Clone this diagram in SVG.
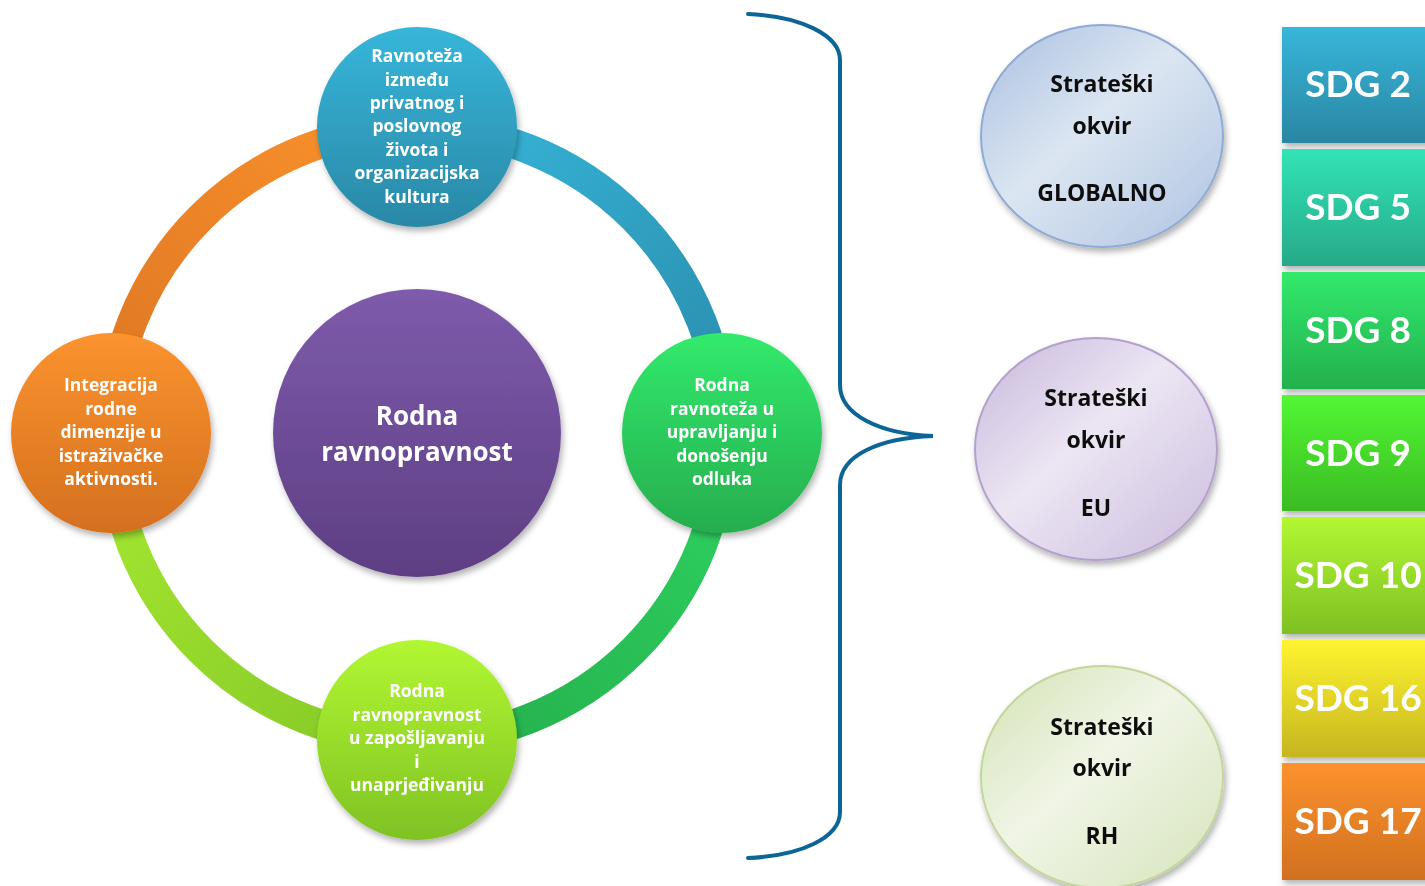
<svg xmlns="http://www.w3.org/2000/svg" width="1425" height="886" viewBox="0 0 1425 886">
<defs>
<style>
.nt{font-family:"Open Sans","Liberation Sans",sans-serif;font-weight:bold;fill:#fff;text-anchor:middle}
.n{font-size:17.5px}
.c{font-size:26px}
.sdg{font-family:Lato,"Open Sans","Liberation Sans",sans-serif;font-weight:bold;fill:#fff;text-anchor:middle;font-size:37px}
.st{font-family:"Open Sans","Liberation Sans",sans-serif;font-weight:bold;fill:#111;text-anchor:middle;font-size:23px}
.ring{fill:none;stroke-width:30}
</style>
<filter id="sh" x="-20%" y="-20%" width="150%" height="150%">
<feDropShadow dx="2" dy="4" stdDeviation="3" flood-color="#000" flood-opacity="0.3"/>
</filter>
<linearGradient id="gTop" x1="0" y1="0" x2="0" y2="1"><stop offset="0" stop-color="#37b6da"/><stop offset="1" stop-color="#2a88a6"/></linearGradient>
<linearGradient id="gRight" x1="0" y1="0" x2="0" y2="1"><stop offset="0" stop-color="#31ea6c"/><stop offset="1" stop-color="#27ad4e"/></linearGradient>
<linearGradient id="gLeft" x1="0" y1="0" x2="0" y2="1"><stop offset="0" stop-color="#fb932e"/><stop offset="1" stop-color="#d4701f"/></linearGradient>
<linearGradient id="gBot" x1="0" y1="0" x2="0" y2="1"><stop offset="0" stop-color="#b2f732"/><stop offset="1" stop-color="#7fc224"/></linearGradient>
<linearGradient id="gCen" x1="0" y1="0" x2="0" y2="1"><stop offset="0" stop-color="#7e5bab"/><stop offset="1" stop-color="#5e3e83"/></linearGradient>
<linearGradient id="rTR" gradientUnits="userSpaceOnUse" x1="417" y1="128" x2="723" y2="434"><stop offset="0" stop-color="#37b6da"/><stop offset="1" stop-color="#2a8cab"/></linearGradient>
<linearGradient id="rBR" gradientUnits="userSpaceOnUse" x1="723" y1="434" x2="417" y2="740"><stop offset="0" stop-color="#2ed161"/><stop offset="1" stop-color="#25ae4c"/></linearGradient>
<linearGradient id="rBL" gradientUnits="userSpaceOnUse" x1="417" y1="740" x2="111" y2="434"><stop offset="0" stop-color="#84c827"/><stop offset="1" stop-color="#a6e831"/></linearGradient>
<linearGradient id="rTL" gradientUnits="userSpaceOnUse" x1="111" y1="434" x2="417" y2="128"><stop offset="0" stop-color="#dc7622"/><stop offset="1" stop-color="#fb922d"/></linearGradient>
<linearGradient id="e1" x1="0" y1="0" x2="1" y2="1"><stop offset="0" stop-color="#a8bfe0"/><stop offset="0.45" stop-color="#dce6f2"/><stop offset="1" stop-color="#aec3e1"/></linearGradient>
<linearGradient id="e2" x1="0" y1="0" x2="1" y2="1"><stop offset="0" stop-color="#c7b6dc"/><stop offset="0.45" stop-color="#ece6f3"/><stop offset="1" stop-color="#cbbcde"/></linearGradient>
<linearGradient id="e3" x1="0" y1="0" x2="1" y2="1"><stop offset="0" stop-color="#d3e2b4"/><stop offset="0.45" stop-color="#f0f5e6"/><stop offset="1" stop-color="#d6e4bb"/></linearGradient>
<linearGradient id="s2" x1="0" y1="0" x2="0" y2="1"><stop offset="0" stop-color="#37b6da"/><stop offset="1" stop-color="#2a86a2"/></linearGradient>
<linearGradient id="s5" x1="0" y1="0" x2="0" y2="1"><stop offset="0" stop-color="#31e4b6"/><stop offset="1" stop-color="#27a988"/></linearGradient>
<linearGradient id="s8" x1="0" y1="0" x2="0" y2="1"><stop offset="0" stop-color="#32ea6c"/><stop offset="1" stop-color="#24af4d"/></linearGradient>
<linearGradient id="s9" x1="0" y1="0" x2="0" y2="1"><stop offset="0" stop-color="#52f732"/><stop offset="1" stop-color="#3bbb24"/></linearGradient>
<linearGradient id="s10" x1="0" y1="0" x2="0" y2="1"><stop offset="0" stop-color="#b2f732"/><stop offset="1" stop-color="#7fc024"/></linearGradient>
<linearGradient id="s16" x1="0" y1="0" x2="0" y2="1"><stop offset="0" stop-color="#fff431"/><stop offset="1" stop-color="#c6b51f"/></linearGradient>
<linearGradient id="s17" x1="0" y1="0" x2="0" y2="1"><stop offset="0" stop-color="#fc922e"/><stop offset="1" stop-color="#d0701f"/></linearGradient>
</defs>
<rect width="1425" height="886" fill="#fff"/>

<g id="connectors">
<path class="ring" stroke="url(#rTR)" d="M417,128 A306,306 0 0 1 723,434"/>
<path class="ring" stroke="url(#rBR)" d="M723,434 A306,306 0 0 1 417,740"/>
<path class="ring" stroke="url(#rBL)" d="M417,740 A306,306 0 0 1 111,434"/>
<path class="ring" stroke="url(#rTL)" d="M111,434 A306,306 0 0 1 417,128"/>
<path id="brace" fill="none" stroke="#0b6597" stroke-width="4" stroke-linecap="round" d="M748,14 C800,16 840,35 840,60 L840,385 C840,415 880,434 933,436 C880,438 840,455 840,485 L840,812 C840,838 800,856 748,858"/>
</g>

<g id="node-top" filter="url(#sh)">
<circle cx="417" cy="127" r="100" fill="url(#gTop)"/>
<text class="nt n"><tspan x="417" y="62">Ravnoteža</tspan><tspan x="417" y="86">između</tspan><tspan x="417" y="109">privatnog i</tspan><tspan x="417" y="132">poslovnog</tspan><tspan x="417" y="156">života i</tspan><tspan x="417" y="179">organizacijska</tspan><tspan x="417" y="203">kultura</tspan></text>
</g>
<g id="node-right" filter="url(#sh)">
<circle cx="722" cy="433" r="100" fill="url(#gRight)"/>
<text class="nt n"><tspan x="722" y="391">Rodna</tspan><tspan x="722" y="415">ravnoteža u</tspan><tspan x="722" y="438">upravljanju i</tspan><tspan x="722" y="462">donošenju</tspan><tspan x="722" y="485">odluka</tspan></text>
</g>
<g id="node-left" filter="url(#sh)">
<circle cx="111" cy="433" r="100" fill="url(#gLeft)"/>
<text class="nt n"><tspan x="111" y="391">Integracija</tspan><tspan x="111" y="415">rodne</tspan><tspan x="111" y="438">dimenzije u</tspan><tspan x="111" y="462">istraživačke</tspan><tspan x="111" y="485">aktivnosti.</tspan></text>
</g>
<g id="node-bottom" filter="url(#sh)">
<circle cx="417" cy="740" r="100" fill="url(#gBot)"/>
<text class="nt n"><tspan x="417" y="697">Rodna</tspan><tspan x="417" y="721">ravnopravnost</tspan><tspan x="417" y="744">u zapošljavanju</tspan><tspan x="417" y="768">i</tspan><tspan x="417" y="791">unaprjeđivanju</tspan></text>
</g>
<g id="node-center" filter="url(#sh)">
<circle cx="417" cy="433" r="144" fill="url(#gCen)"/>
<text class="nt c"><tspan x="417" y="425">Rodna</tspan><tspan x="417" y="461">ravnopravnost</tspan></text>
</g>

<g id="frame-global" filter="url(#sh)">
<ellipse cx="1102" cy="136" rx="121" ry="111" fill="url(#e1)" stroke="#8faad4" stroke-width="2"/>
<text class="st"><tspan x="1102" y="92">Strateški</tspan><tspan x="1102" y="134">okvir</tspan><tspan x="1102" y="201">GLOBALNO</tspan></text>
</g>
<g id="frame-eu" filter="url(#sh)">
<ellipse cx="1096" cy="449" rx="121" ry="111" fill="url(#e2)" stroke="#b3a0cb" stroke-width="2"/>
<text class="st"><tspan x="1096" y="406">Strateški</tspan><tspan x="1096" y="448">okvir</tspan><tspan x="1096" y="516">EU</tspan></text>
</g>
<g id="frame-rh" filter="url(#sh)">
<ellipse cx="1102" cy="777" rx="121" ry="111" fill="url(#e3)" stroke="#c3d69b" stroke-width="2"/>
<text class="st"><tspan x="1102" y="735">Strateški</tspan><tspan x="1102" y="776">okvir</tspan><tspan x="1102" y="844">RH</tspan></text>
</g>

<g id="sdg2" filter="url(#sh)"><rect x="1282" y="27" width="150" height="116" fill="url(#s2)"/><text class="sdg" x="1358" y="97">SDG 2</text></g>
<g id="sdg5" filter="url(#sh)"><rect x="1282" y="149" width="150" height="117" fill="url(#s5)"/><text class="sdg" x="1358" y="220">SDG 5</text></g>
<g id="sdg8" filter="url(#sh)"><rect x="1282" y="272" width="150" height="117" fill="url(#s8)"/><text class="sdg" x="1358" y="343">SDG 8</text></g>
<g id="sdg9" filter="url(#sh)"><rect x="1282" y="395" width="150" height="116" fill="url(#s9)"/><text class="sdg" x="1358" y="466">SDG 9</text></g>
<g id="sdg10" filter="url(#sh)"><rect x="1282" y="517" width="150" height="117" fill="url(#s10)"/><text class="sdg" x="1358" y="588">SDG 10</text></g>
<g id="sdg16" filter="url(#sh)"><rect x="1282" y="640" width="150" height="117" fill="url(#s16)"/><text class="sdg" x="1358" y="711">SDG 16</text></g>
<g id="sdg17" filter="url(#sh)"><rect x="1282" y="763" width="150" height="117" fill="url(#s17)"/><text class="sdg" x="1358" y="834">SDG 17</text></g>
</svg>
